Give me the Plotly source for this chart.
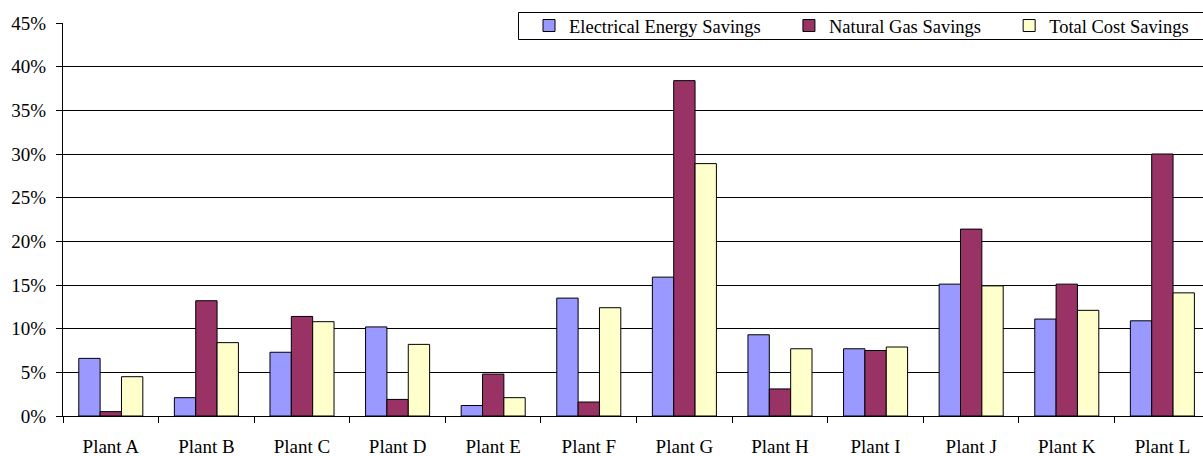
import plotly.graph_objects as go

plants = ["Plant A", "Plant B", "Plant C", "Plant D", "Plant E", "Plant F",
          "Plant G", "Plant H", "Plant I", "Plant J", "Plant K", "Plant L"]
electrical = [6.6, 2.1, 7.3, 10.2, 1.2, 13.5, 15.9, 9.3, 7.7, 15.1, 11.1, 10.9]
natural_gas = [0.5, 13.2, 11.4, 1.9, 4.8, 1.6, 38.4, 3.1, 7.5, 21.4, 15.1, 30.0]
total_cost = [4.5, 8.4, 10.8, 8.2, 2.1, 12.4, 28.9, 7.7, 7.9, 14.9, 12.1, 14.1]

series = [
    ("Electrical Energy Savings", electrical, "#9999FF"),
    ("Natural Gas Savings", natural_gas, "#993366"),
    ("Total Cost Savings", total_cost, "#FFFFCC"),
]

W, H = 1203, 456
ML, MR, MT, MB = 63, 0, 23, 40
PW, PH = W - ML - MR, H - MT - MB

def px_x(p):
    return (p - ML) / PW

def px_y(p):
    return 1 - (p - MT) / PH

pad = "\u00a0" * 5
fig = go.Figure()
for i, (name, vals, color) in enumerate(series):
    label = name + (pad if i < len(series) - 1 else "")
    fig.add_trace(go.Bar(
        x=plants, y=vals, name=label,
        marker=dict(color=color, line=dict(color="#000000", width=1)),
    ))

font = "Liberation Serif"
fig.add_shape(
    type="rect", xref="paper", yref="paper", layer="above",
    x0=px_x(518.5), x1=px_x(1210), y0=px_y(39.5), y1=px_y(12.5),
    fillcolor="white", line=dict(color="black", width=1),
)
fig.update_layout(
    width=W, height=H,
    margin=dict(l=ML, r=MR, t=MT, b=MB, autoexpand=False),
    paper_bgcolor="white", plot_bgcolor="white",
    barmode="group", bargap=0.33, bargroupgap=0,
    font=dict(family=font, size=19, color="black"),
    showlegend=True,
    legend=dict(
        orientation="h", x=px_x(529), xanchor="left", y=px_y(26), yanchor="middle",
        bgcolor="rgba(0,0,0,0)", borderwidth=0,
        font=dict(family=font, size=18.5, color="black"),
        traceorder="normal",
    ),
    xaxis=dict(
        type="category", range=[-0.5, 11.425],
        showline=True, linecolor="black", linewidth=1,
        ticks="outside", tickson="boundaries", ticklen=6, tickcolor="black",
        showgrid=False, ticklabelstandoff=13,
        tickfont=dict(family=font, size=19, color="black"),
    ),
    yaxis=dict(
        range=[0, 45], dtick=5, ticksuffix="%",
        showline=True, linecolor="black", linewidth=1,
        ticks="outside", ticklen=6, tickcolor="black",
        showgrid=True, gridcolor="black", gridwidth=1,
        zeroline=False, ticklabelstandoff=6,
        tickfont=dict(family=font, size=19, color="black"),
    ),
)

fig.write_html("out.html", config={"displayModeBar": False},
               post_script="document.body.style.margin='0';")
